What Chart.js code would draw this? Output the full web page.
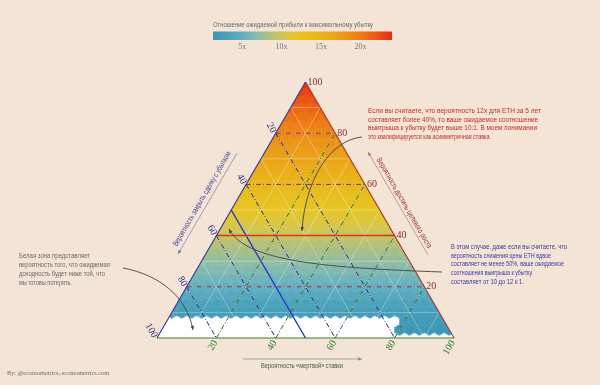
<!DOCTYPE html>
<html>
<head>
<meta charset="utf-8">
<script src="https://cdn.jsdelivr.net/npm/chart.js@4.4.1/dist/chart.umd.min.js"></script>
<style>
  html, body { margin: 0; padding: 0; background: #f3e4d5; }
  #wrap { position: relative; width: 600px; height: 385px; }
</style>
</head>
<body>
<div id="wrap"><canvas id="tern"></canvas></div>
<script>
// hex cells per side of the ternary heatmap
const gridN = 30;

// expected profit / max loss, one value per hex row (row 0 = base, row 30 = apex)
const rowRatio = [0, 0, 0, 2.6, 3.3, 4.1, 4.9, 5.7, 6.5, 7.2, 8.0, 8.8, 9.6, 10.4, 11.2,
  12.0, 12.8, 13.5, 14.3, 15.1, 15.9, 16.7, 17.5, 18.2, 19.0, 19.8, 20.6, 21.4, 22.2, 23.0, 23.8];
// bottom rows when the "dead bet" probability is at least cornerFrom %
const cornerRatio = [0, 1.7, 2.1];
const cornerFrom = 80;

const tickValues = [20, 40, 60, 80, 100];
const dashValues = [20, 60, 80];
const latticeValues = [10, 20, 30, 40, 50, 60, 70, 80, 90];
const targetLine = 40;   // solid red, growth probability
const lossLine = 50;     // solid blue, loss probability

// colour bar
const cbMin = 1.3, cbMax = 24;
const cbTicks = [5, 10, 15, 20];
const cmapVals = [1.3, 3, 5, 7, 9, 10.5, 12, 14, 16, 18, 20, 22, 24];
const cmapColors = ['#3a95b3', '#48a0ba', '#62b0c3', '#8cbcaa', '#b9c272', '#d8c64a', '#e7c524',
  '#e8bb1c', '#eaab1a', '#ec9618', '#ee7c16', '#ec5814', '#e62a10'];

const labels = {
  cbTitle: 'Отношение ожидаемой прибыли к максимальному убытку',
  left: 'Вероятность закрыть сделку с убытком',
  right: 'Вероятность достичь целевого роста',
  bottom: 'Вероятность «мертвой» ставки',
  footer: 'By: @ecoinometrics, ecoinometrics.com',
  red: ['Если вы считаете, что вероятность 12x для ETH за 5 лет',
        'составляет более 40%, то ваше ожидаемое соотношение',
        'выигрыша к убытку будет выше 10:1. В моем понимании',
        'это квалифицируется как асимметричная ставка.'],
  blue: ['В этом случае, даже если вы считаете, что',
         'вероятность снижения цены ETH вдвое',
         'составляет не менее 50%, ваше ожидаемое',
         'соотношения выигрыша к убытку',
         'составляет от 10 до 12 к 1.'],
  gray: ['Белая зона представляет',
         'вероятность того, что ожидаемая',
         'доходность будет ниже той, что',
         'мы готовы потерять.']
};

// ternary (top, left, right) in % -> cartesian
function tern(top, left, right) {
  return { x: (right + top / 2) / 100, y: top / 100 };
}

function hexToRgb(h) {
  return [parseInt(h.slice(1, 3), 16), parseInt(h.slice(3, 5), 16), parseInt(h.slice(5, 7), 16)];
}

function colorFor(v) {
  if (!(v >= cbMin)) return '#ffffff';
  if (v >= cmapVals[cmapVals.length - 1]) return cmapColors[cmapColors.length - 1];
  for (let k = 0; k < cmapVals.length - 1; k++) {
    if (v <= cmapVals[k + 1]) {
      const f = (v - cmapVals[k]) / (cmapVals[k + 1] - cmapVals[k]);
      const a = hexToRgb(cmapColors[k]), b = hexToRgb(cmapColors[k + 1]);
      const c = a.map((q, n) => Math.round(q + (b[n] - q) * f));
      return 'rgb(' + c.join(',') + ')';
    }
  }
  return cmapColors[0];
}

// hex cells
const hexData = [];
for (let j = 0; j <= gridN; j++) {
  for (let i = 0; i <= gridN - j; i++) {
    let v = rowRatio[j];
    if (j < cornerRatio.length && (i / gridN) * 100 >= cornerFrom - 0.01) v = cornerRatio[j];
    hexData.push({ x: (i + j / 2) / gridN, y: j / gridN, v: v });
  }
}

const hexCache = {};
function hexStyle(chart, color) {
  const sx = chart.scales.x, sy = chart.scales.y;
  if (!sx || !sy) return 'circle';
  const w = sx.getPixelForValue(1 / gridN) - sx.getPixelForValue(0);
  const r = (sy.getPixelForValue(0) - sy.getPixelForValue(1 / gridN)) / 1.5;
  if (!(w > 2) || !(r > 1)) return 'circle';
  const key = color + '|' + w.toFixed(2);
  if (hexCache[key]) return hexCache[key];
  const cv = document.createElement('canvas');
  cv.width = Math.ceil(w) + 2;
  cv.height = Math.ceil(2 * r) + 2;
  const c = cv.getContext('2d');
  const cx = cv.width / 2, cy = cv.height / 2, hw = w / 2 + 0.5, rr = r + 0.5;
  c.fillStyle = color;
  c.beginPath();
  c.moveTo(cx, cy - rr);
  c.lineTo(cx + hw, cy - rr / 2);
  c.lineTo(cx + hw, cy + rr / 2);
  c.lineTo(cx, cy + rr);
  c.lineTo(cx - hw, cy + rr / 2);
  c.lineTo(cx - hw, cy - rr / 2);
  c.closePath();
  c.fill();
  hexCache[key] = cv;
  return cv;
}

// higher order is drawn further below
function lineSet(points, color, width, dash, order) {
  return {
    data: points, showLine: true, borderColor: color, borderWidth: width,
    borderDash: dash || [], pointRadius: 0, pointHoverRadius: 0, fill: false, order: order
  };
}

const datasets = [{
  data: hexData,
  order: 10,
  pointRadius: 1,
  pointHoverRadius: 1,
  pointStyle: function(ctx) {
    if (!ctx.raw) return 'circle';
    return hexStyle(ctx.chart, colorFor(ctx.raw.v));
  }
}];

// faint white lattice
latticeValues.forEach(v => {
  const c = 'rgba(255,255,255,0.4)';
  datasets.push(lineSet([tern(v, 100 - v, 0), tern(v, 0, 100 - v)], c, 0.8, [], 5));
  datasets.push(lineSet([tern(100 - v, v, 0), tern(0, v, 100 - v)], c, 0.8, [], 5));
  datasets.push(lineSet([tern(0, 100 - v, v), tern(100 - v, 0, v)], c, 0.8, [], 5));
});

const dashDot = [5, 2, 1, 2];
dashValues.forEach(v => {
  datasets.push(lineSet([tern(v, 100 - v, 0), tern(v, 0, 100 - v)], '#8a2a2a', 1, dashDot, 3));
});
tickValues.slice(0, 4).forEach(v => {
  datasets.push(lineSet([tern(100 - v, v, 0), tern(0, v, 100 - v)], '#24247e', 1, dashDot, 3));
  datasets.push(lineSet([tern(0, 100 - v, v), tern(100 - v, 0, v)], '#2a6e2a', 1, dashDot, 3));
});
datasets.push(lineSet([tern(targetLine, 100 - targetLine, 0), tern(targetLine, 0, 100 - targetLine)], '#e0301e', 1.5, [], 2));
datasets.push(lineSet([tern(100 - lossLine, lossLine, 0), tern(0, lossLine, 100 - lossLine)], '#2233cc', 1.4, [], 2));

// triangle edges
datasets.push(lineSet([tern(0, 100, 0), tern(0, 0, 100)], '#3d7d3d', 1.2, [], 1));
datasets.push(lineSet([tern(0, 100, 0), tern(100, 0, 0)], '#3b3b8f', 1.2, [], 1));
datasets.push(lineSet([tern(100, 0, 0), tern(0, 0, 100)], '#a23a3a', 1.2, [], 1));

const clipPlugin = {
  id: 'clipTriangle',
  beforeDatasetDraw(chart, args) {
    if (args.index !== 0) return;
    const sx = chart.scales.x, sy = chart.scales.y, ctx = chart.ctx;
    ctx.save();
    ctx.beginPath();
    ctx.moveTo(sx.getPixelForValue(0), sy.getPixelForValue(0));
    ctx.lineTo(sx.getPixelForValue(1), sy.getPixelForValue(0));
    ctx.lineTo(sx.getPixelForValue(0.5), sy.getPixelForValue(1));
    ctx.closePath();
    ctx.clip();
  },
  afterDatasetDraw(chart, args) {
    if (args.index === 0) chart.ctx.restore();
  }
};

function text(ctx, str, x, y, o) {
  ctx.save();
  ctx.translate(x, y);
  if (o.rot) ctx.rotate(o.rot);
  ctx.font = o.font;
  ctx.fillStyle = o.color;
  ctx.textAlign = o.align || 'left';
  ctx.textBaseline = o.base || 'middle';
  if (o.w) ctx.fillText(str, 0, 0, o.w); else ctx.fillText(str, 0, 0);
  ctx.restore();
}

function arrowHead(ctx, x, y, ang, size, color) {
  ctx.save();
  ctx.translate(x, y);
  ctx.rotate(ang);
  ctx.fillStyle = color;
  ctx.beginPath();
  ctx.moveTo(0, 0);
  ctx.lineTo(-size, -size * 0.45);
  ctx.lineTo(-size, size * 0.45);
  ctx.closePath();
  ctx.fill();
  ctx.restore();
}

function curveArrow(ctx, p, color) {
  ctx.save();
  ctx.strokeStyle = color;
  ctx.lineWidth = 0.9;
  ctx.beginPath();
  ctx.moveTo(p[0], p[1]);
  ctx.bezierCurveTo(p[2], p[3], p[4], p[5], p[6], p[7]);
  ctx.stroke();
  ctx.restore();
  arrowHead(ctx, p[6], p[7], Math.atan2(p[7] - p[5], p[6] - p[4]), 4, color);
}

function straightArrow(ctx, x0, y0, x1, y1, color) {
  ctx.save();
  ctx.strokeStyle = color;
  ctx.lineWidth = 0.7;
  ctx.beginPath();
  ctx.moveTo(x0, y0);
  ctx.lineTo(x1, y1);
  ctx.stroke();
  ctx.restore();
  arrowHead(ctx, x1, y1, Math.atan2(y1 - y0, x1 - x0), 4, color);
}

const narrow = '"Liberation Sans Narrow", "Liberation Sans", Arial, sans-serif';
const serif = '"Liberation Serif", "DejaVu Serif", serif';

const decorPlugin = {
  id: 'decor',
  afterDraw(chart) {
    const ctx = chart.ctx, sx = chart.scales.x, sy = chart.scales.y;
    const px = p => [sx.getPixelForValue(p.x), sy.getPixelForValue(p.y)];

    // colour bar
    const cbX0 = 213, cbX1 = 392, cbY = 31.5, cbH = 8.5;
    const g = ctx.createLinearGradient(cbX0, 0, cbX1, 0);
    cmapVals.forEach((v, k) => g.addColorStop((v - cbMin) / (cbMax - cbMin), cmapColors[k]));
    ctx.fillStyle = g;
    ctx.fillRect(cbX0, cbY, cbX1 - cbX0, cbH);
    text(ctx, labels.cbTitle, cbX0, 25, { font: '8px ' + narrow, color: '#6a6a6a', w: 160 });
    cbTicks.forEach(v => {
      const x = cbX0 + (v - cbMin) / (cbMax - cbMin) * (cbX1 - cbX0);
      text(ctx, v + 'x', x, 47, { font: '8px ' + serif, color: '#777', align: 'center' });
    });

    // tick labels
    tickValues.forEach(v => {
      let p = px(tern(v, 0, 100 - v));
      text(ctx, String(v), p[0] + 2, p[1], { font: '10px ' + serif, color: '#8b2e2e' });
      p = px(tern(100 - v, v, 0));
      text(ctx, String(v), p[0] - 2, p[1] - 1, { font: '10px ' + serif, color: '#2e2e8a', align: 'right', rot: Math.PI / 3 });
      p = px(tern(0, 100 - v, v));
      text(ctx, String(v), p[0] - 1, p[1] + 3, { font: '10px ' + serif, color: '#2e7a2e', align: 'right', rot: -Math.PI / 3 });
    });

    // axis titles with arrows
    straightArrow(ctx, 237, 153, 178, 254, '#7a7ab0');
    text(ctx, labels.left, 202, 199, { font: '8px ' + narrow, color: '#4a4a9a', align: 'center', rot: -Math.PI / 3, w: 108 });
    straightArrow(ctx, 428, 255, 368, 152, '#b07a7a');
    text(ctx, labels.right, 404, 203, { font: '8px ' + narrow, color: '#9a3535', align: 'center', rot: Math.PI / 3, w: 103 });
    straightArrow(ctx, 243, 359, 362, 359, '#7a9a7a');
    text(ctx, labels.bottom, 302, 365.5, { font: '8px ' + narrow, color: '#3d5a3d', align: 'center', w: 82 });

    // annotations
    const redW = [173, 170, 169, 123];
    labels.red.forEach((s, k) => text(ctx, s, 368, 111 + k * 8.6, { font: '8px ' + narrow, color: '#c0302a', w: redW[k] }));
    const blueW = [116, 100, 113, 81, 73];
    labels.blue.forEach((s, k) => text(ctx, s, 451, 246.5 + k * 8.8, { font: '8px ' + narrow, color: '#3a3aa8', w: blueW[k] }));
    const grayW = [71, 91, 86, 53];
    labels.gray.forEach((s, k) => text(ctx, s, 19, 256 + k * 9, { font: '8px ' + narrow, color: '#6a6a6a', w: grayW[k] }));

    curveArrow(ctx, [362, 137, 330, 140, 305, 180, 302, 231], '#444');
    curveArrow(ctx, [442, 272, 330, 268, 245, 262, 229, 229], '#444');
    curveArrow(ctx, [123, 268, 160, 275, 187, 297, 193, 330], '#444');

    text(ctx, labels.footer, 7, 373, { font: '7px ' + serif, color: '#6a6a6a', w: 102 });
  }
};

new Chart(document.getElementById('tern'), {
  type: 'scatter',
  data: { datasets: datasets },
  options: {
    responsive: true,
    maintainAspectRatio: false,
    animation: false,
    events: [],
    layout: { padding: 0, autoPadding: false },
    plugins: { legend: { display: false }, tooltip: { enabled: false } },
    scales: {
      x: { display: false, min: -157 / 297, max: 443 / 297 },
      y: { display: false, min: -47 / 256, max: 338 / 256 }
    }
  },
  plugins: [clipPlugin, decorPlugin]
});
</script>
</body>
</html>
